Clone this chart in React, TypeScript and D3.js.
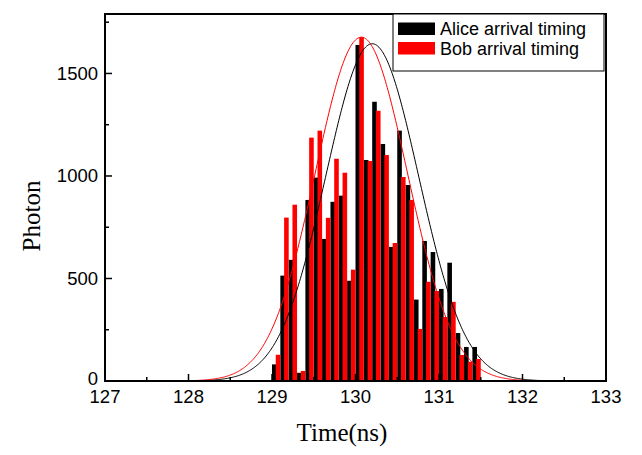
import React from "react";
import * as d3 from "d3";

const binStarts = [129.0,129.1,129.2,129.3,129.4,129.5,129.6,129.7,129.8,129.9,130.0,130.1,130.2,130.3,130.4,130.5,130.6,130.7,130.8,130.9,131.0,131.1,131.2,131.3,131.4];
const aliceCounts = [81,514,591,40,883,992,693,874,904,489,1639,1078,1362,1156,654,1221,956,397,683,629,449,577,234,166,166];
const bobCounts = [128,797,860,49,1187,1221,796,1084,1016,543,1677,1073,1318,1102,673,995,883,254,484,439,312,386,127,94,107];
// Gaussian fit parameters [amplitude, centre, sigma]
const aliceFit = [1645, 130.2, 0.557];
const bobFit = [1677, 130.07, 0.551];
const xTicks = [127, 128, 129, 130, 131, 132, 133];
const xMinor = [127.5, 128.5, 129.5, 130.5, 131.5, 132.5];
const yTicks = [0, 500, 1000, 1500];
const yMinor = [250, 750, 1250, 1750];
const seriesNames = ["Alice arrival timing", "Bob arrival timing"];
const seriesColors = ["#000000", "#ff0000"];

const W = 642, H = 455;
const L = 105, R = 606, T = 14, B = 381;

export default function App() {
  const x = d3.scaleLinear().domain([127, 133]).range([L, R]);
  const y = d3.scaleLinear().domain([0, 1790]).range([B, T]);
  const binW = 0.1;
  const fitLine = (p: number[]) => {
    const [A, mu, s] = p;
    const pts = d3.range(127, 133.0001, 0.01).map((t) => [t, A * Math.exp(-((t - mu) ** 2) / (2 * s * s))] as [number, number]);
    return d3.line<[number, number]>().x((d) => x(d[0])).y((d) => y(d[1]))(pts) || "";
  };
  const sans = "'Liberation Sans', Arial, sans-serif";
  const serif = "'Liberation Serif', 'Times New Roman', serif";
  return (
    <svg width={W} height={H} style={{ position: "absolute", left: 0, top: 0, background: "#fff" }}>
      <defs>
        <clipPath id="plot">
          <rect x={L} y={T} width={R - L} height={B - T} />
        </clipPath>
      </defs>
      <rect x={0} y={0} width={W} height={H} fill="#fff" />
      <g clipPath="url(#plot)">
        {binStarts.map((b, i) => (
          <rect key={"a" + i} x={x(b)} y={y(aliceCounts[i])} width={x(b + 0.055) - x(b)} height={B - y(aliceCounts[i])} fill={seriesColors[0]} />
        ))}
        {binStarts.map((b, i) => (
          <rect key={"b" + i} x={x(b + 0.045)} y={y(bobCounts[i])} width={x(b + binW) - x(b + 0.045)} height={B - y(bobCounts[i])} fill={seriesColors[1]} />
        ))}
        <path d={fitLine(aliceFit)} fill="none" stroke={seriesColors[0]} strokeWidth={1} />
        <path d={fitLine(bobFit)} fill="none" stroke={seriesColors[1]} strokeWidth={1} />
      </g>
      {/* ticks */}
      {xTicks.map((t) => (
        <line key={"xt" + t} x1={x(t)} x2={x(t)} y1={B} y2={B - 7} stroke="#000" strokeWidth={1.5} />
      ))}
      {xMinor.map((t) => (
        <line key={"xm" + t} x1={x(t)} x2={x(t)} y1={B} y2={B - 4} stroke="#000" strokeWidth={1.5} />
      ))}
      {yTicks.map((t) => (
        <line key={"yt" + t} x1={L} x2={L + 7} y1={y(t)} y2={y(t)} stroke="#000" strokeWidth={1.5} />
      ))}
      {yMinor.map((t) => (
        <line key={"ym" + t} x1={L} x2={L + 4} y1={y(t)} y2={y(t)} stroke="#000" strokeWidth={1.5} />
      ))}
      {/* frame */}
      <rect x={L} y={T} width={R - L} height={B - T} fill="none" stroke="#000" strokeWidth={2} />
      {/* tick labels */}
      {xTicks.map((t) => (
        <text key={"xl" + t} x={x(t)} y={403} textAnchor="middle" fontFamily={sans} fontSize={18.5} fill="#000">{t}</text>
      ))}
      {yTicks.map((t) => (
        <text key={"yl" + t} x={98} y={y(t) + (t === 0 ? 3.5 : 6.5)} textAnchor="end" fontFamily={sans} fontSize={18.5} fill="#000">{t}</text>
      ))}
      {/* axis titles */}
      <text x={342} y={441} textAnchor="middle" fontFamily={serif} fontSize={25} fill="#000">Time(ns)</text>
      <text transform={`translate(40,${216}) rotate(-90)`} textAnchor="middle" fontFamily={serif} fontSize={25} fill="#000">Photon</text>
      {/* legend */}
      <rect x={393} y={T} width={211} height={57} fill="#fff" stroke="#000" strokeWidth={1} />
      {seriesNames.map((n, i) => (
        <g key={n}>
          <rect x={398} y={22.5 + i * 19.5} width={37} height={12.5} fill={seriesColors[i]} />
          <text x={440} y={35 + i * 20} fontFamily={sans} fontSize={18} fill="#000">{n}</text>
        </g>
      ))}
    </svg>
  );
}
